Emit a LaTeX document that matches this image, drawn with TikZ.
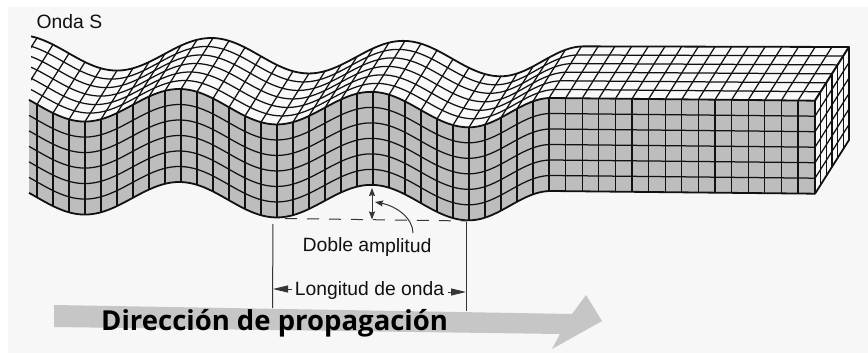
\documentclass[tikz,border=0pt]{standalone}
\usepackage{fontspec}
\setmainfont{Liberation Sans}
\newfontfamily\boldlab{Open Sans}[BoldFont={Open Sans Bold}]
\usetikzlibrary{arrows.meta}
\definecolor{paper}{HTML}{F7F7F7}
\definecolor{rockgrey}{HTML}{BDBDBD}
\definecolor{arrowgrey}{HTML}{C6C6C6}
\definecolor{ink}{HTML}{111111}
\tikzset{
  declare function={
    fwave(\x)=(106+0.015*(\x-180)-17*cos((\x-180)/192*360));
    fflank(\x)=(112.65+14.65*cos((\x-469)/82*180));
    fflat(\x)=(98+(\x-551)*0.0102);
    ft(\x)=ifthenelse(\x<469,fwave(\x),ifthenelse(\x<551,fflank(\x),fflat(\x)));
    ramp(\x)=ifthenelse(\x<469,0,(\x-469)/346);
    ddx(\x)=32+2*ramp(\x);
    ddy(\x)=-51-2.7*ramp(\x);
    colx(\k)=ifthenelse(\k<33,37+16*\k,549+16.6*(\k-32));
  },
  gridline/.style={draw=ink,line width=1.25pt},
  outline/.style={draw=ink,line width=1.8pt},
  leader/.style={draw=ink!85,line width=1pt},
  lab/.style={text=ink,inner sep=0pt,font=\fontsize{19.3}{21}\selectfont},
  headtip/.tip={Stealth[length=15pt,width=7pt,inset=0pt]},
  smalltip/.tip={Stealth[length=8pt,width=6pt,inset=1pt]},
}
\begin{document}
\begin{tikzpicture}[x=1pt,y=-1pt]
\useasboundingbox (0,0) rectangle (868,353);
\fill[white] (0,0) rectangle (868,353);
\fill[paper] (8,7) rectangle (868,353);

% front face
\fill[rockgrey] plot[domain=29:815,samples=260] (\x,{ft(\x)})
  -- plot[domain=815:29,samples=260] (\x,{ft(\x)+93}) -- cycle;
\foreach \s in {1,...,5}
  \draw[gridline] plot[domain=29:815,samples=260] (\x,{ft(\x)+\s*15.5});
\foreach \k in {0,...,48}{
  \pgfmathsetmacro{\xk}{colx(\k)}
  \draw[gridline] (\xk,{ft(\xk)}) -- (\xk,{ft(\xk)+93});
}
\draw[outline] plot[domain=29:815,samples=260] (\x,{ft(\x)+93});

% top face
\begin{scope}
\clip (31,0) rectangle (868,353);
\fill[paper!70!white] plot[domain=-20:815,samples=260] (\x,{ft(\x)})
  -- plot[domain=815:-20,samples=260] ({\x+ddx(\x)},{ft(\x)+ddy(\x)}) -- cycle;
\foreach \t in {1,...,5}
  \draw[gridline] plot[domain=-20:815,samples=260] ({\x+\t/6*ddx(\x)},{ft(\x)+\t/6*ddy(\x)});
\foreach \k in {-2,...,48}{
  \pgfmathsetmacro{\xk}{colx(\k)}
  \draw[gridline] (\xk,{ft(\xk)}) -- ({\xk+ddx(\xk)},{ft(\xk)+ddy(\xk)});
}
\draw[outline] plot[domain=-20:815,samples=260] ({\x+ddx(\x)},{ft(\x)+ddy(\x)});
\end{scope}
\draw[outline] plot[domain=29:815,samples=260] (\x,{ft(\x)});

% right face
\fill[paper!70!white] (815,100.7) -- (849,47) -- (849,140) -- (815,193.7) -- cycle;
\foreach \s in {1,...,5}
  \draw[gridline] (815,{100.7+\s*15.5}) -- (849,{47+\s*15.5});
\foreach \t in {1,...,5}
  \draw[gridline] ({815+\t*34/6},{100.7-\t*53.7/6}) -- ({815+\t*34/6},{193.7-\t*53.7/6});
\draw[outline,line join=round] (815,100.7) -- (849,47) -- (849,140) -- (815,193.7) -- cycle;

% annotations
\coordinate (dashL) at (285,218.5);
\coordinate (dashR) at (467,221);
\coordinate (ampT) at (372,188);
\coordinate (ampB) at (372,219.5);
\coordinate (wlLT) at (273,224);
\coordinate (wlLB) at (272.5,308);
\coordinate (wlRT) at (466,222);
\coordinate (wlRB) at (466,311);
\coordinate (curveS) at (413,233);
\coordinate (curveE) at (375,202);
\draw[leader,dash pattern=on 12pt off 10pt] (dashL) -- (dashR);
\draw[leader,smalltip-smalltip] (ampT) -- (ampB);
\draw[leader] (wlLT) -- (wlLB);
\draw[leader] (wlRT) -- (wlRB);
\draw[leader,-smalltip] (curveS) .. controls (413,218) and (396,206) .. (curveE);

% propagation arrow
\fill[arrowgrey] (54,305) -- (572,314) -- (586,295) -- (602,321) -- (552,349) -- (560,334) -- (54,327) -- cycle;

\node[lab,anchor=base west] (onda) at (36.5,29) {Onda S};
\node[lab,anchor=base,rotate=-0.8] (doble) at (367,252) {Doble amplitud};
\node[lab,anchor=base] (longitud) at (369.5,295) {Longitud de onda};
\coordinate (tailL) at (292,289);
\coordinate (tipL) at (273,289);
\coordinate (tailR) at (448,292);
\coordinate (tipR) at (466,292);
\draw[leader,-headtip] (tailL) -- (tipL);
\draw[leader,-headtip] (tailR) -- (tipR);
\node[anchor=base west,inner sep=0pt,font=\boldlab\bfseries\fontsize{27.5}{30}\selectfont,text=black] (dir) at (101,330) {Dirección de propagación};
\end{tikzpicture}
\end{document}
